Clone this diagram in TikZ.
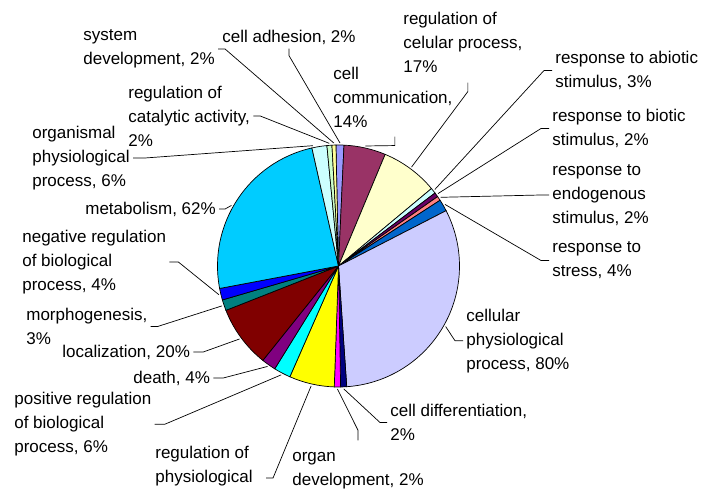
\documentclass[tikz,border=0pt]{standalone}
\usepackage{fontspec}
\setmainfont{Liberation Sans}
\usepackage{tikz}
\definecolor{cAdh}{HTML}{9999FF}
\definecolor{cComm}{HTML}{993366}
\definecolor{cRcell}{HTML}{FFFFCC}
\definecolor{cAbio}{HTML}{CCFFFF}
\definecolor{cBio}{HTML}{660066}
\definecolor{cEndo}{HTML}{FF8080}
\definecolor{cStress}{HTML}{0066CC}
\definecolor{cCphys}{HTML}{CCCCFF}
\definecolor{cCdiff}{HTML}{000080}
\definecolor{cOrgdev}{HTML}{FF00FF}
\definecolor{cRphys}{HTML}{FFFF00}
\definecolor{cPosreg}{HTML}{00FFFF}
\definecolor{cDeath}{HTML}{800080}
\definecolor{cLocal}{HTML}{800000}
\definecolor{cMorph}{HTML}{008080}
\definecolor{cNegreg}{HTML}{0000FF}
\definecolor{cMetab}{HTML}{00CCFF}
\definecolor{cOrgan}{HTML}{CCFFFF}
\definecolor{cCatal}{HTML}{CCFFCC}
\definecolor{cSysdev}{HTML}{FFFF99}

\begin{document}
\begin{tikzpicture}[x=1pt,y=1pt,line width=0.7pt,
                    pie label/.style={font=\fontsize{17}{24}\selectfont,align=left,
                                      inner xsep=3pt,inner ysep=0pt,anchor=west},
                    leader/.style={draw,line width=0.7pt}]
  \useasboundingbox (0,0) rectangle (705,492);
  \coordinate (c) at (338.5,226);
  %slices%
  \foreach \s/\e/\col/\n in {91.2/87.4/cAdh/adhes, 87.4/67.3/cComm/comm,
      67.3/39.8/cRcell/rcell, 39.8/37.1/cAbio/abiotic, 37.1/35/cBio/biotic,
      35/32.9/cEndo/endo, 32.9/27.2/cStress/stress, 27.2/-86.1/cCphys/cellphys,
      -86.1/-89/cCdiff/celldiff, -89/-92/cOrgdev/orgdev, -92/-113.7/cRphys/rphys,
      -113.7/-121.8/cPosreg/posreg, -121.8/-128.7/cDeath/death,
      -128.7/-158.5/cLocal/local, -158.5/-163.7/cMorph/morph,
      -163.7/-169.3/cNegreg/negreg, -169.3/-257.3/cMetab/metab,
      -257.3/-264.5/cOrgan/organ, -264.5/-266.9/cCatal/catal,
      -266.9/-268.8/cSysdev/sysdev}
  {
    \filldraw[fill=\col] (c) -- ++(\s:121pt) arc[start angle=\s,end angle=\e,radius=121pt] -- cycle;
    \path (c) ++({(\s+\e)/2}:123pt) coordinate (p-\n);
  }
  \path (c) ++(150.5:123pt) coordinate (p-metab);
  \path (c) ++(102:123pt) coordinate (p-organ);

  %labels%
  \node[pie label] (sysdev) at (80,443) {system\\development, 2\%};
  \node[pie label] (adhes) at (219,455) {cell adhesion, 2\%};
  \node[pie label] (catal) at (125,376) {regulation of\\catalytic activity,\\2\%};
  \node[pie label] (organ) at (29,334) {organismal\\physiological\\process, 6\%};
  \node[pie label] (metab) at (82,283) {metabolism, 62\%};
  \node[pie label] (negreg) at (19,230) {negative regulation\\of biological\\process, 4\%};
  \node[pie label] (morph) at (23,165.5) {morphogenesis,\\3\%};
  \node[pie label] (local) at (59,140) {localization, 20\%};
  \node[pie label] (death) at (130,114) {death, 4\%};
  \node[pie label] (posreg) at (11,67.7) {positive regulation\\of biological\\process, 6\%};
  \node[pie label] (rphys) at (152,25.5) {regulation of\\physiological};
  \node[pie label] (orgdev) at (289,21) {organ\\development, 2\%};
  \node[pie label] (celldiff) at (387,69.5) {cell differentiation,\\2\%};
  \node[pie label] (cellphys) at (463,151.3) {cellular\\physiological\\process, 80\%};
  \node[pie label] (stress) at (549,231.5) {response to\\stress, 4\%};
  \node[pie label] (endo) at (549,297) {response to\\endogenous\\stimulus, 2\%};
  \node[pie label] (biotic) at (549,363.5) {response to biotic\\stimulus, 2\%};
  \node[pie label] (abiotic) at (552,421.5) {response to abiotic\\stimulus, 3\%};
  \node[pie label] (rcell) at (400,450) {regulation of\\celular process,\\17\%};
  \node[pie label] (comm) at (330,395) {cell\\communication,\\14\%};

  %leaders%
  \draw[leader] (sysdev.east) -- ++(7,0) -- (p-sysdev);
  \draw[leader] ([yshift=-4pt]adhes.south) -- ++(0,-7) -- (p-adhes);
  \draw[leader] (catal.east) -- ++(7,0) -- (p-catal);
  \draw[leader] (organ.east) -- ++(12,0) -- (p-organ);
  \draw[leader] (metab.east) -- ++(6,0) -- (p-metab);
  \draw[leader] (negreg.east) -- ++(9,0) -- (p-negreg);
  \draw[leader] (morph.east) -- ++(7,0) -- (p-morph);
  \draw[leader] (local.east) -- ++(10,0) -- (p-local);
  \draw[leader] (death.east) -- ++(10,0) -- (p-death);
  \draw[leader] (posreg.east) -- ++(10,0) -- (p-posreg);
  \draw[leader] ([xshift=10pt,yshift=-11.5pt]rphys.east) -- ++(7,0) -- (p-rphys);
  \draw[leader] ([yshift=12pt]orgdev.north) -- ++(0,10) -- (p-orgdev);
  \draw[leader] (celldiff.west) -- ++(-7,0) -- (p-celldiff);
  \draw[leader] (cellphys.west) -- ++(-8,0) -- (p-cellphys);
  \draw[leader] (stress.west) -- ++(-8,0) -- (p-stress);
  \draw[leader] (endo.west) -- ++(-8,0) -- (p-endo);
  \draw[leader] (biotic.west) -- ++(-8,0) -- (p-biotic);
  \draw[leader] (abiotic.west) -- ++(-8,0) -- (p-abiotic);
  \draw[leader] ([xshift=5pt,yshift=-10pt]rcell.south) -- ++(0,-9) -- (p-rcell);
  \draw[leader] ([xshift=2pt,yshift=-9pt]comm.south) -- ++(0,-9) -- (p-comm);
\end{tikzpicture}
\end{document}
